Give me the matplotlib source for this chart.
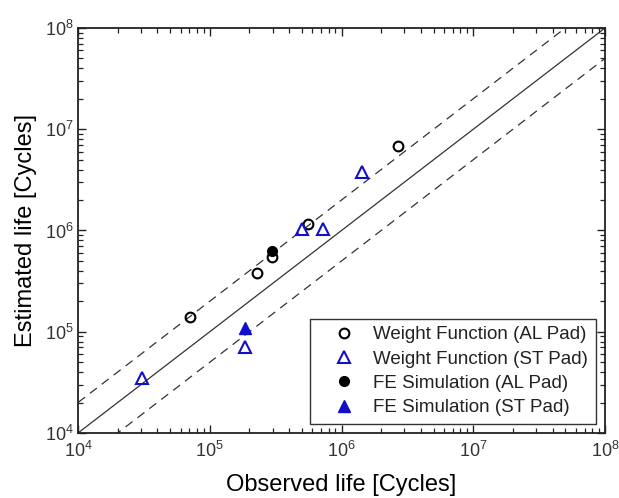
import numpy as np
import matplotlib
matplotlib.use("Agg")
import matplotlib.pyplot as plt
from matplotlib.ticker import LogLocator, NullFormatter

plt.rcParams['font.family'] = ['Liberation Sans', 'DejaVu Sans']
plt.rcParams['mathtext.fontset'] = 'custom'
plt.rcParams['mathtext.rm'] = 'Liberation Sans'

# Observed vs. estimated fatigue life
wf_al_obs = [7.1e4, 2.27e5, 2.98e5, 5.54e5, 2.67e6]
wf_al_est = [1.41e5, 3.83e5, 5.44e5, 1.16e6, 6.84e6]

wf_st_obs = [3.08e4, 1.85e5, 5.04e5, 7.3e5, 1.44e6]
wf_st_est = [3.47e4, 7.1e4, 1.03e6, 1.03e6, 3.81e6]

fe_al_obs = [2.97e5]
fe_al_est = [6.3e5]

fe_st_obs = [1.85e5]
fe_st_est = [1.08e5]

# Scatter band: perfect agreement and factor-of-two limits
band_factors = [0.5, 1.0, 2.0]
axis_limits = [1e4, 1e8]

blue = '#1010c8'

fig = plt.figure(figsize=(6.19, 4.98), dpi=100)
ax = fig.add_axes([0.126, 0.1305, 0.8514, 0.8133])

x_line = np.array(axis_limits)
for f in band_factors:
    ls = '-' if f == 1.0 else (0, (7, 5))
    ax.plot(x_line, x_line * f, color='#333333', lw=0.9, ls=ls, zorder=1)

ax.plot(wf_al_obs, wf_al_est, 'o', mfc='none', mec='black', mew=1.5, ms=7,
        label='Weight Function (AL Pad)', zorder=3)
ax.plot(wf_st_obs, wf_st_est, '^', mfc='none', mec=blue, mew=1.5, ms=8,
        label='Weight Function (ST Pad)', zorder=3)
ax.plot(fe_al_obs, fe_al_est, 'o', mfc='black', mec='black', ms=7,
        label='FE Simulation (AL Pad)', zorder=4)
ax.plot(fe_st_obs, fe_st_est, '^', mfc=blue, mec=blue, ms=8,
        label='FE Simulation (ST Pad)', zorder=4)

ax.set_xscale('log')
ax.set_yscale('log')
ax.set_xlim(axis_limits)
ax.set_ylim(axis_limits)

for axis in (ax.xaxis, ax.yaxis):
    axis.set_major_locator(LogLocator(base=10, numticks=10))
    axis.set_minor_locator(LogLocator(base=10, subs=np.arange(2, 10), numticks=20))
    axis.set_minor_formatter(NullFormatter())

ax.tick_params(which='both', direction='in', top=True, right=True,
               colors='#222222', labelcolor='#333333')
ax.tick_params(which='major', length=6, width=1.0, labelsize=13, pad=6)
ax.tick_params(which='minor', length=3.5, width=0.9)
ax.tick_params(axis='y', which='major', pad=3)
for s in ax.spines.values():
    s.set_linewidth(1.3)
    s.set_color('#222222')

ax.set_xlabel('Observed life [Cycles]', fontsize=17, labelpad=9)
ax.set_ylabel('Estimated life [Cycles]', fontsize=17, labelpad=6)

leg = ax.legend(loc='lower right', fontsize=13.5, frameon=True, fancybox=False,
                edgecolor='#333333', framealpha=1, labelspacing=0.38,
                handlelength=2.8, handletextpad=0.15, borderpad=0.4,
                borderaxespad=0.5, numpoints=1)
leg.get_frame().set_linewidth(1.0)
for t in leg.get_texts():
    t.set_color('#222222')

fig.savefig('out.png', dpi=100)
